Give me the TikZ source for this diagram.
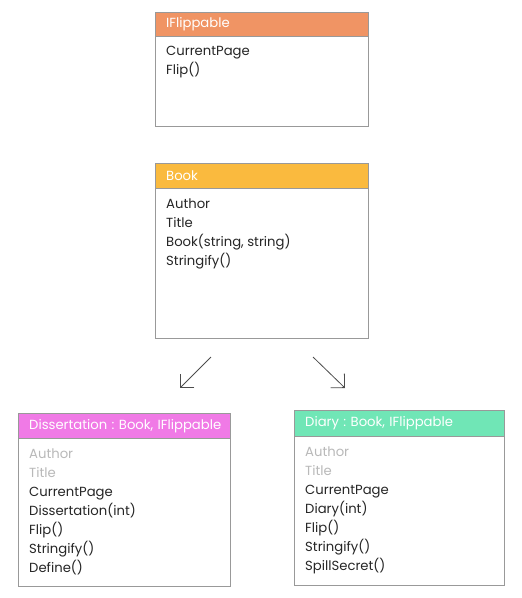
\documentclass[tikz,border=0pt]{standalone}
\usepackage{fontspec}
\setmainfont{Poppins}
\usetikzlibrary{arrows.meta,positioning}

\definecolor{iflcol}{RGB}{240,148,100}
\definecolor{bookcol}{RGB}{250,186,62}
\definecolor{disscol}{RGB}{240,122,230}
\definecolor{diarycol}{RGB}{112,230,182}

\newcommand{\classitems}[3][191pt]{\parbox[t][#2][t]{#1}{\raggedright #3}}
\newcommand{\inherited}[1]{\textcolor{gray!55}{#1}}
\newcommand{\headtext}[1]{\makebox[0pt][l]{#1}}
\frenchspacing

\tikzset{
classhead/.style={draw=gray!80, fill=#1, text=white, minimum width=213pt,
  minimum height=25pt, text width=191pt, inner xsep=11pt, inner ysep=0pt, align=left},
classbody/.style={draw=gray!80, fill=white, text=black!85, inner xsep=11pt, inner ysep=10pt},
inherit/.style={-{Straight Barb[angle=90:14pt]}, black!70, line width=0.8pt}}

\begin{document}
\begin{tikzpicture}
  [x=1pt,y=-1pt,
   every node/.style={font=\fontsize{13.2}{19}\selectfont}]
  \useasboundingbox (0,0) rectangle (522,598);
  % interface
  \node[classhead=iflcol, anchor=north west, minimum height=24pt] (ifl) at (155,12) {\headtext{IFlippable}};
  \node[classbody, below=0pt of ifl] (ifl-body) {\classitems{70pt}{CurrentPage\\Flip()}};
  % base class
  \node[classhead=bookcol, anchor=north west] (book) at (155,163) {\headtext{Book}};
  \node[classbody, below=0pt of book] (book-body)
    {\classitems{130pt}{Author\\Title\\Book(string, string)\\Stringify()}};
  % derived classes
  \node[classhead=disscol, anchor=north west, minimum width=212pt, text width=190pt] (diss) at (18,413)
    {\headtext{Dissertation : Book, IFlippable}};
  \node[classbody, below=0pt of diss] (diss-body)
    {\classitems[190pt]{128pt}{\inherited{Author}\\\inherited{Title}\\CurrentPage\\Dissertation(int)\\Flip()\\Stringify()\\Define()}};
  \node[classhead=diarycol, anchor=north west, minimum width=210pt, text width=188pt, minimum height=26pt] (diary) at (294,410)
    {\headtext{Diary : Book, IFlippable}};
  \node[classbody, below=0pt of diary] (diary-body)
    {\classitems[188pt]{129pt}{\inherited{Author}\\\inherited{Title}\\CurrentPage\\Diary(int)\\Flip()\\Stringify()\\SpillSecret()}};
  % inheritance arrows
  \coordinate (to-diss-start) at (211,357);
  \coordinate (to-diss-end) at (180,388);
  \coordinate (to-diary-start) at (313,357);
  \coordinate (to-diary-end) at (345,388);
  \draw[inherit] (to-diss-start) -- (to-diss-end);
  \draw[inherit] (to-diary-start) -- (to-diary-end);
\end{tikzpicture}
\end{document}
